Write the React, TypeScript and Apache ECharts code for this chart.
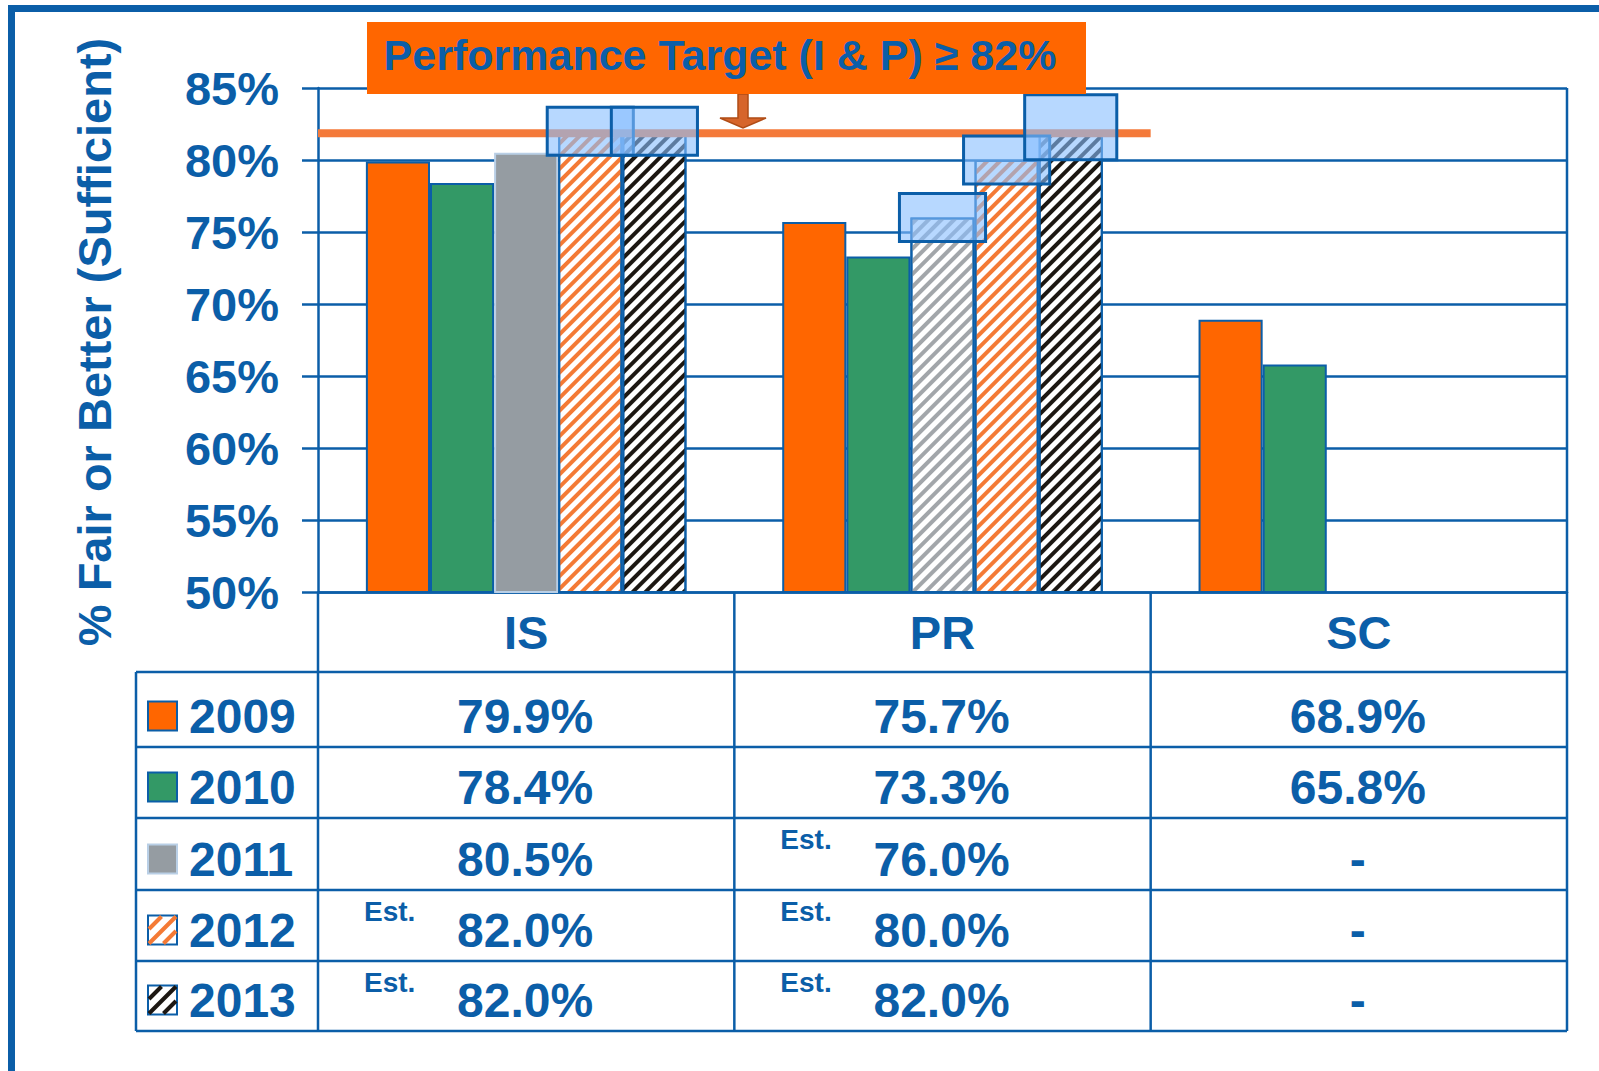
import React, { useEffect, useRef } from 'react';
import * as echarts from 'echarts';

// ---------- data ----------
const categories = ['IS', 'PR', 'SC'];
const years = ['2009', '2010', '2011', '2012', '2013'];
const values2009 = [79.9, 75.7, 68.9];
const values2010 = [78.4, 73.3, 65.8];
const values2011 = [80.5, 76.0, null];
const values2012 = [82.0, 80.0, null];
const values2013 = [82.0, 82.0, null];
const est2009 = [false, false, false];
const est2010 = [false, false, false];
const est2011 = [false, true, false];
const est2012 = [true, true, false];
const est2013 = [true, true, false];
const targetValue = 82;
const yMin = 50;
const yMax = 85;
const yInterval = 5;
const titleText = 'Performance Target (I & P) \u2265 82%';
const yAxisTitle = '% Fair or Better (Sufficient)';
const estLabel = 'Est.';
const missingLabel = '-';

// ---------- layout / style ----------
const W = 1599;
const H = 1071;
const GRID_L = 318;
const GRID_T = 88;
const GRID_R = 1567;
const GRID_B = 592;
const TABLE_L = 136;
const HEADER_B = 672;
const ROW_LINES = [672, 747, 818, 890, 961, 1031];
const BLUE = '#0b5ea8';
const FONT = '"Liberation Sans", Arial, Helvetica, sans-serif';
const CAT_GAP = 0.23;

const seriesValues = [values2009, values2010, values2011, values2012, values2013];
const estFlags = [est2009, est2010, est2011, est2012, est2013];
const yearStyle = [
  { fill: '#ff6600', border: BLUE, hatch: '#ff6600' },
  { fill: '#339966', border: BLUE, hatch: '#339966' },
  { fill: '#959ca2', border: '#b9cfe6', hatch: '#a2a6aa' },
  { fill: '#ffffff', border: BLUE, hatch: '#f47a35' },
  { fill: '#ffffff', border: BLUE, hatch: '#1c1712' },
];
const legendSolid = [true, true, true, false, false];

function hatchDecal(color: string) {
  return {
    symbol: 'rect',
    symbolSize: 1,
    dashArrayX: [1, 0],
    dashArrayY: [4, 5],
    rotation: -Math.PI / 4,
    color,
  };
}

function buildOption() {
  const band = (GRID_R - GRID_L) / categories.length;
  const colEdges = [GRID_L, GRID_L + band, GRID_L + 2 * band, GRID_R];

  const barSeries = years.map((y, si) => ({
    name: y,
    type: 'bar',
    barGap: '0%',
    barCategoryGap: `${CAT_GAP * 100}%`,
    z: 2,
    data: seriesValues[si].map((v, ci) => {
      const est = estFlags[si][ci];
      const st = yearStyle[si];
      return {
        value: v,
        itemStyle: est
          ? { color: '#ffffff', borderColor: BLUE, borderWidth: 2, decal: hatchDecal(st.hatch) }
          : { color: st.fill, borderColor: st.border, borderWidth: 2 },
      };
    }),
  }));

  // estimate highlight boxes
  const boxData: number[][] = [];
  estFlags.forEach((flags, si) =>
    flags.forEach((f, ci) => {
      if (f && seriesValues[si][ci] != null) boxData.push([ci, si, seriesValues[si][ci] as number]);
    })
  );

  const boxSeries = {
    type: 'custom',
    z: 5,
    silent: true,
    data: boxData,
    encode: { x: 0, y: 2 },
    renderItem: (params: any, api: any) => {
      const ci = api.value(0);
      const si = api.value(1);
      const v = api.value(2);
      const bw = api.size([1, 0])[0];
      const c = api.coord([ci, v]);
      const groupW = bw * (1 - CAT_GAP);
      const barW = groupW / years.length;
      const cx = c[0] - groupW / 2 + (si + 0.5) * barW;
      const big = ci === 1 && si === 4;
      const w = barW + (big ? 28 : 22);
      const h = big ? 65 : 48;
      const cy = c[1] + (big ? -4 : 0);
      return {
        type: 'rect',
        shape: { x: cx - w / 2, y: cy - h / 2, width: w, height: h },
        style: { fill: 'rgba(135,190,255,0.6)', stroke: BLUE, lineWidth: 3 },
      };
    },
  };

  const targetSeries = {
    type: 'custom',
    z: 4,
    silent: true,
    data: [[0, targetValue]],
    encode: { x: 0, y: 1 },
    renderItem: (params: any, api: any) => {
      const bw = api.size([1, 0])[0];
      const p0 = api.coord([0, api.value(1)]);
      const p1 = api.coord([1, api.value(1)]);
      return {
        type: 'line',
        shape: { x1: p0[0] - bw / 2, y1: p0[1] + 2, x2: p1[0] + bw / 2, y2: p1[1] + 2 },
        style: { stroke: '#f47a3a', lineWidth: 8 },
      };
    },
  };

  const graphic: any[] = [];
  const line = (x1: number, y1: number, x2: number, y2: number, z = 10) =>
    graphic.push({
      type: 'line',
      z,
      shape: { x1, y1, x2, y2 },
      style: { stroke: BLUE, lineWidth: 2.5 },
      silent: true,
    });
  const text = (
    t: string,
    x: number,
    y: number,
    size: number,
    align = 'center',
    extra: any = {}
  ) =>
    graphic.push({
      type: 'text',
      z: 20,
      x,
      y,
      silent: true,
      style: {
        text: t,
        fill: BLUE,
        font: `bold ${size}px ${FONT}`,
        align,
        verticalAlign: 'middle',
      },
      ...extra,
    });

  // outer frame (left + top)
  graphic.push({
    type: 'polyline',
    z: 10,
    shape: { points: [[11.5, H], [11.5, 8.5], [W, 8.5]] },
    style: { stroke: BLUE, lineWidth: 7, fill: null },
    silent: true,
  });

  // title box
  graphic.push({
    type: 'rect',
    z: 30,
    shape: { x: 367, y: 22, width: 719, height: 72 },
    style: { fill: '#ff6600' },
    silent: true,
  });
  graphic.push({
    type: 'text',
    z: 31,
    x: 720,
    y: 55,
    silent: true,
    style: {
      text: titleText,
      fill: BLUE,
      font: `bold 43px ${FONT}`,
      align: 'center',
      verticalAlign: 'middle',
    },
  });
  // arrow
  graphic.push({
    type: 'polygon',
    z: 29,
    shape: {
      points: [
        [738, 94],
        [748, 94],
        [748, 118],
        [766, 118],
        [743, 128],
        [720, 118],
        [738, 118],
      ],
    },
    style: { fill: '#d6652b', stroke: '#b04c16', lineWidth: 1.5 },
    silent: true,
  });

  // y axis title
  text(yAxisTitle, 94, 342, 47, 'center', { rotation: Math.PI / 2 });

  // table lines
  line(GRID_L, GRID_B, GRID_L, ROW_LINES[ROW_LINES.length - 1]);
  line(colEdges[1], GRID_B, colEdges[1], ROW_LINES[ROW_LINES.length - 1]);
  line(colEdges[2], GRID_B, colEdges[2], ROW_LINES[ROW_LINES.length - 1]);
  line(GRID_R, GRID_T, GRID_R, ROW_LINES[ROW_LINES.length - 1]);
  line(TABLE_L, HEADER_B, TABLE_L, ROW_LINES[ROW_LINES.length - 1]);
  ROW_LINES.forEach((y) => line(TABLE_L, y, GRID_R, y));

  // table rows
  years.forEach((yr, si) => {
    const top = ROW_LINES[si];
    const bottom = ROW_LINES[si + 1];
    const cy = bottom - 31;
    // legend swatch
    const sx = 148;
    const s = 29;
    const sy = cy - s / 2;
    const st = yearStyle[si];
    graphic.push({
      type: 'rect',
      z: 20,
      shape: { x: sx, y: sy, width: s, height: s },
      style: {
        fill: legendSolid[si] ? st.fill : '#ffffff',
        stroke: st.border,
        lineWidth: 2,
      },
      silent: true,
    });
    if (!legendSolid[si]) {
      const d = 14.5;
      for (let k = sx + sy + d; k < sx + sy + 2 * s; k += d) {
        const xmin = Math.max(sx + 1, k - sy - s + 1);
        const xmax = Math.min(sx + s - 1, k - sy - 1);
        if (xmax > xmin) {
          graphic.push({
            type: 'line',
            z: 21,
            shape: { x1: xmin, y1: k - xmin, x2: xmax, y2: k - xmax },
            style: { stroke: st.hatch, lineWidth: 4 },
            silent: true,
          });
        }
      }
    }
    text(yr, 189, cy, 48, 'left');

    categories.forEach((c, ci) => {
      const v = seriesValues[si][ci];
      const cx = (colEdges[ci] + colEdges[ci + 1]) / 2 - 1;
      text(v == null ? missingLabel : `${(v as number).toFixed(1)}%`, cx, cy, 48, 'center');
      if (estFlags[si][ci]) {
        text(estLabel, colEdges[ci] + 46, top + 21, 28, 'left');
      }
    });
  });

  return {
    animation: false,
    backgroundColor: '#ffffff',
    grid: {
      left: GRID_L,
      top: GRID_T,
      right: W - GRID_R,
      bottom: H - GRID_B,
      containLabel: false,
    },
    xAxis: {
      type: 'category',
      data: categories,
      axisLine: { lineStyle: { color: BLUE, width: 2.5 } },
      axisTick: { show: false },
      axisLabel: {
        color: BLUE,
        fontFamily: FONT,
        fontWeight: 'bold',
        fontSize: 47,
        margin: 40,
        verticalAlign: 'middle',
      },
    },
    yAxis: {
      type: 'value',
      min: yMin,
      max: yMax,
      interval: yInterval,
      axisLine: { show: true, lineStyle: { color: BLUE, width: 2.5 } },
      axisTick: { show: true, length: 16, lineStyle: { color: BLUE, width: 2.5 } },
      splitLine: { lineStyle: { color: BLUE, width: 2.5 } },
      axisLabel: {
        formatter: '{value}%',
        color: BLUE,
        fontFamily: FONT,
        fontWeight: 'bold',
        fontSize: 47,
        margin: 39,
      },
    },
    series: [...barSeries, targetSeries, boxSeries],
    graphic,
  };
}

export default function App() {
  const ref = useRef<HTMLDivElement>(null);
  useEffect(() => {
    document.body.style.margin = '0';
    if (!ref.current) return;
    const chart = echarts.init(ref.current, undefined, { renderer: 'svg' });
    chart.setOption(buildOption() as any);
    return () => chart.dispose();
  }, []);
  return <div ref={ref} style={{ width: W, height: H }} />;
}
